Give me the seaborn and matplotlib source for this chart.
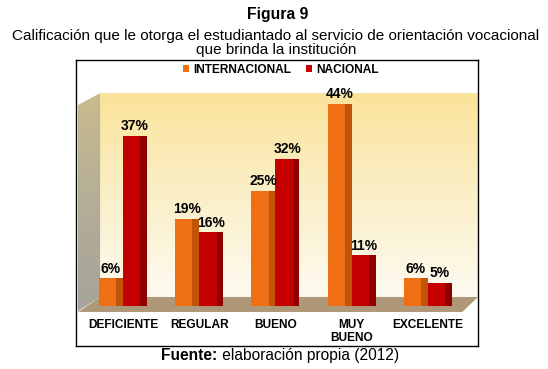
import numpy as np
import pandas as pd
import matplotlib
matplotlib.use("Agg")
import matplotlib.pyplot as plt
import seaborn as sns
from matplotlib.patches import Polygon, Rectangle
from matplotlib.colors import LinearSegmentedColormap

# ---------------- data ----------------
categories = ["DEFICIENTE", "REGULAR", "BUENO", "MUY\nBUENO", "EXCELENTE"]
series_names = ["INTERNACIONAL", "NACIONAL"]
internacional = [6, 19, 25, 44, 6]
nacional = [37, 16, 32, 11, 5]

title = "Figura 9"
subtitle = "Calificación que le otorga el estudiantado al servicio de orientación vocacional\nque brinda la institución"
source_bold = "Fuente:"
source_rest = " elaboración propia (2012)"

df = pd.DataFrame({
    "cat": categories * 2,
    "serie": [series_names[0]] * len(categories) + [series_names[1]] * len(categories),
    "val": internacional + nacional,
})

# ---------------- style ----------------
sns.set_theme(style="white")
plt.rcParams["font.family"] = ["Liberation Sans", "DejaVu Sans"]
plt.rcParams["text.color"] = "black"

orange = "#EE6F14"
red = "#C40000"
dark = {orange: "#C25408", red: "#8E0000"}

W, H = 548, 369
fig = plt.figure(figsize=(W / 100, H / 100), dpi=100)
fig.patch.set_facecolor("white")

# axes spans the framed box
ax = fig.add_axes([76 / W, (H - 346) / H, (478 - 76) / W, (346 - 60) / H])
ax.set_xlim(-0.616, 4.656)
ax.set_ylim(-8.7, 53.5)

# back wall gradient
wall_cmap = LinearSegmentedColormap.from_list("wall", ["#FDFAF0", "#FBEFC8", "#FAE39A"])
grad = np.linspace(0, 1, 256).reshape(-1, 1)
ax.imshow(grad, extent=(-0.30, 4.656, 1.96, 46.3), origin="lower", cmap=wall_cmap,
          aspect="auto", zorder=0)

# left wall
side_cmap = LinearSegmentedColormap.from_list("side", ["#A6A398", "#B4AE98", "#C9BB8C"])
side_img = ax.imshow(grad, extent=(-0.59, -0.30, -1.09, 46.3), origin="lower",
                     cmap=side_cmap, aspect="auto", zorder=0.5)
side_poly = Polygon([(-0.59, 43.7), (-0.30, 46.3), (-0.30, 1.96), (-0.59, -1.09)],
                    closed=True, transform=ax.transData, facecolor="none", edgecolor="none")
ax.add_patch(side_poly)
side_img.set_clip_path(side_poly)

# floor
floor = Polygon([(-0.30, 1.96), (4.656, 1.96), (4.45, -1.3), (-0.59, -1.3)],
                closed=True, facecolor="#AE9878", edgecolor="none", zorder=0.6)
ax.add_patch(floor)

# bars
sns.barplot(data=df, x="cat", y="val", hue="serie", palette=[orange, red],
            width=0.63, saturation=1, ax=ax, zorder=2, legend=True,
            edgecolor="none", linewidth=0)

# shading on right side of each bar for a pseudo-3D look
for cont, col in zip(ax.containers, [orange, red]):
    for p in cont.patches:
        x0, w, h = p.get_x(), p.get_width(), p.get_height()
        ax.add_patch(Rectangle((x0 + w * 0.72, 0), w * 0.28, h, facecolor=dark[col],
                               edgecolor="none", zorder=2.1))
    ax.bar_label(cont, labels=[f"{v:g}%" for v in cont.datavalues], padding=2,
                 fontsize=10, fontweight="bold", color="black", zorder=3)

ax.set_xlim(-0.616, 4.656)
ax.set_ylim(-8.7, 53.5)

# legend
sns.move_legend(ax, "center", bbox_to_anchor=(0.51, 0.965), ncol=2, frameon=False,
                title=None, fontsize=8.6, handlelength=0.55, handleheight=0.55,
                handletextpad=0.35, columnspacing=1.2)
for t in ax.get_legend().get_texts():
    t.set_fontweight("bold")
    t.set_color("black")

# category labels
ax.set_xticks([])
ax.set_yticks([])
ax.set_xlabel("")
ax.set_ylabel("")
for i, c in enumerate(categories):
    ax.text(i, -2.75, c, ha="center", va="top", fontsize=8.6, fontweight="bold",
            linespacing=1.1, zorder=3, color="black")

for s in ax.spines.values():
    s.set_visible(True)
    s.set_color("black")
    s.set_linewidth(1.0)

# titles
fig.text(278 / W, 1 - 15 / H, title, ha="center", va="center", fontsize=11.3,
         fontweight="bold", color="black")
fig.text(276 / W, 1 - 43 / H, subtitle, ha="center", va="center", fontsize=11,
         linespacing=1.0, color="black")

# source line with bold prefix (shared baseline)
fig.canvas.draw()
r = fig.canvas.get_renderer()
base_y = 1 - 360 / H
tb = fig.text(0, base_y, source_bold, ha="left", va="baseline", fontsize=11.2,
              fontweight="bold", color="black")
tr = fig.text(0, base_y, source_rest, ha="left", va="baseline", fontsize=11.2,
              color="black")
wb = tb.get_window_extent(r).width
wr = tr.get_window_extent(r).width
start = 280 - (wb + wr) / 2
tb.set_x(start / W)
tr.set_x((start + wb) / W)

fig.savefig("out.png", dpi=100)
